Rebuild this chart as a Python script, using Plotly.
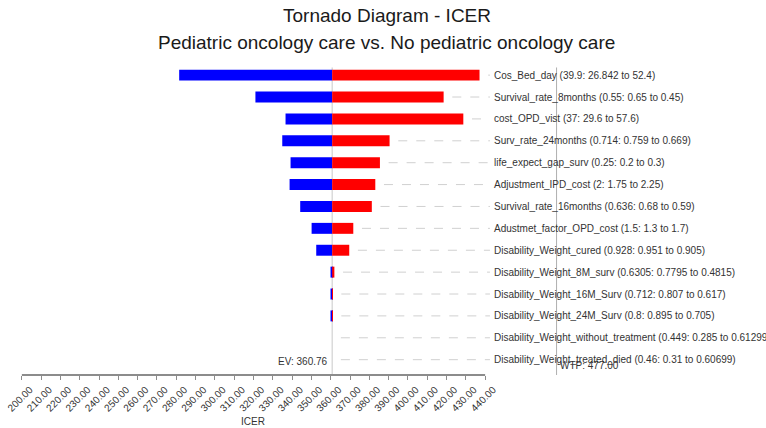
import plotly.graph_objects as go

# ---------------- data ----------------
title_line1 = "Tornado Diagram - ICER"
title_line2 = "Pediatric oncology care vs. No pediatric oncology care"

param_labels = [
    "Cos_Bed_day (39.9: 26.842 to 52.4)",
    "Survival_rate_8months (0.55: 0.65 to 0.45)",
    "cost_OPD_vist (37: 29.6 to 57.6)",
    "Surv_rate_24months (0.714: 0.759 to 0.669)",
    "life_expect_gap_surv (0.25: 0.2 to 0.3)",
    "Adjustment_IPD_cost (2: 1.75 to 2.25)",
    "Survival_rate_16months (0.636: 0.68 to 0.59)",
    "Adustmet_factor_OPD_cost (1.5: 1.3 to 1.7)",
    "Disability_Weight_cured (0.928: 0.951 to 0.905)",
    "Disability_Weight_8M_surv (0.6305: 0.7795 to 0.4815)",
    "Disability_Weight_16M_Surv (0.712: 0.807 to 0.617)",
    "Disability_Weight_24M_Surv (0.8: 0.895 to 0.705)",
    "Disability_Weight_without_treatment (0.449: 0.285 to 0.612999)",
    "Disability_Weight_treated_died (0.46: 0.31 to 0.60699)",
]
icer_low = [281.5, 321.0, 336.6, 334.9, 339.2, 338.7, 344.2, 350.1, 352.5,
            359.9, 359.9, 359.9, 360.76, 360.76]
icer_high = [437.1, 418.5, 428.7, 390.5, 385.5, 383.1, 381.3, 371.7, 369.6,
             361.9, 361.0, 361.0, 360.76, 360.76]
ev_value = 360.76
wtp_value = 477.0
tick_values = list(range(200, 441, 10))
tick_labels = [f"{v:.2f}" for v in tick_values]
axis_title = "ICER"

# ---------------- figure ----------------
rows = list(range(len(param_labels)))
FONT = "Liberation Sans, Arial, sans-serif"
XR = [198, 582.4]
YR = [13.7, -0.6]

fig = go.Figure()
fig.add_trace(go.Bar(
    y=rows, x=[v - ev_value for v in icer_low], base=ev_value,
    orientation="h", width=0.5, marker=dict(color="#0000ff", line=dict(width=0)),
    showlegend=False, hoverinfo="skip"))
fig.add_trace(go.Bar(
    y=rows, x=[v - ev_value for v in icer_high], base=ev_value,
    orientation="h", width=0.5, marker=dict(color="#ff0000", line=dict(width=0)),
    showlegend=False, hoverinfo="skip"))

shapes = []
# dashed guide lines from bar end to the labels
for i in rows:
    start = max(icer_high[i], icer_low[i], ev_value) + 4.5
    end = 442.5
    if start < end:
        shapes.append(dict(type="line", xref="x", yref="y", x0=start, x1=end,
                           y0=i, y1=i, line=dict(color="#d0d0d0", width=1, dash="dash"),
                           layer="below"))
# EV line
shapes.append(dict(type="line", xref="x", yref="y", x0=ev_value, x1=ev_value,
                   y0=-0.35, y1=YR[0], line=dict(color="#c8c8c8", width=1), layer="below"))
# WTP line
shapes.append(dict(type="line", xref="x", yref="y", x0=wtp_value, x1=wtp_value,
                   y0=-0.35, y1=YR[0], line=dict(color="#b0b0b0", width=1), layer="below"))
# axis line only across tick span
shapes.append(dict(type="line", xref="x", yref="paper", x0=tick_values[0], x1=tick_values[-1],
                   y0=0, y1=0, line=dict(color="#8c8c8c", width=2)))

annotations = []
for i, lab in enumerate(param_labels):
    annotations.append(dict(x=443.5, y=i, xref="x", yref="y", text=lab, showarrow=False,
                            xanchor="left", yanchor="middle",
                            font=dict(family=FONT, size=10, color="#333333")))
annotations.append(dict(x=ev_value, y=13.1, xref="x", yref="y", text=f"EV: {ev_value:.2f}",
                        showarrow=False, xanchor="right", yanchor="middle", xshift=-2,
                        font=dict(family=FONT, size=10, color="#333333")))
annotations.append(dict(x=wtp_value, y=13.25, xref="x", yref="y", text=f"WTP: {wtp_value:.2f}",
                        showarrow=False, xanchor="left", yanchor="middle", xshift=1,
                        font=dict(family=FONT, size=10, color="#333333")))
annotations.append(dict(x=(tick_values[0] + tick_values[-1]) / 2, y=-0.147, xref="x", yref="paper",
                        text=axis_title, showarrow=False, xanchor="center", yanchor="middle",
                        font=dict(family=FONT, size=10, color="#333333")))
annotations.append(dict(x=0.497, y=1.147, xref="paper", yref="paper", text=title_line1,
                        showarrow=False, xanchor="center", yanchor="middle",
                        font=dict(family=FONT, size=19, color="#1a1a1a")))
annotations.append(dict(x=0.497, y=1.061, xref="paper", yref="paper", text=title_line2,
                        showarrow=False, xanchor="center", yanchor="middle",
                        font=dict(family=FONT, size=19, color="#1a1a1a")))

fig.update_layout(
    width=766, height=428,
    margin=dict(l=18, r=6, t=62, b=53, autoexpand=False),
    paper_bgcolor="white", plot_bgcolor="white",
    barmode="overlay",
    shapes=shapes, annotations=annotations,
    xaxis=dict(range=XR, tickvals=tick_values, ticktext=tick_labels, tickangle=-45,
               ticks="outside", ticklen=4, tickcolor="#8c8c8c", tickwidth=1,
               ticklabeloverflow="allow", automargin=False, ticklabelshift=8,
               showgrid=False, zeroline=False, showline=False,
               tickfont=dict(family=FONT, size=10, color="#333333")),
    xaxis2=dict(range=XR, overlaying="x", anchor="y", side="bottom",
                tickvals=tick_values, ticks="inside", ticklen=4, tickcolor="#8c8c8c",
                tickwidth=1, showticklabels=False, showgrid=False, zeroline=False,
                showline=False, automargin=False),
    yaxis=dict(range=YR, showticklabels=False, showgrid=False, zeroline=False,
               showline=False, ticks="", automargin=False),
)
fig.write_html("out.html")
